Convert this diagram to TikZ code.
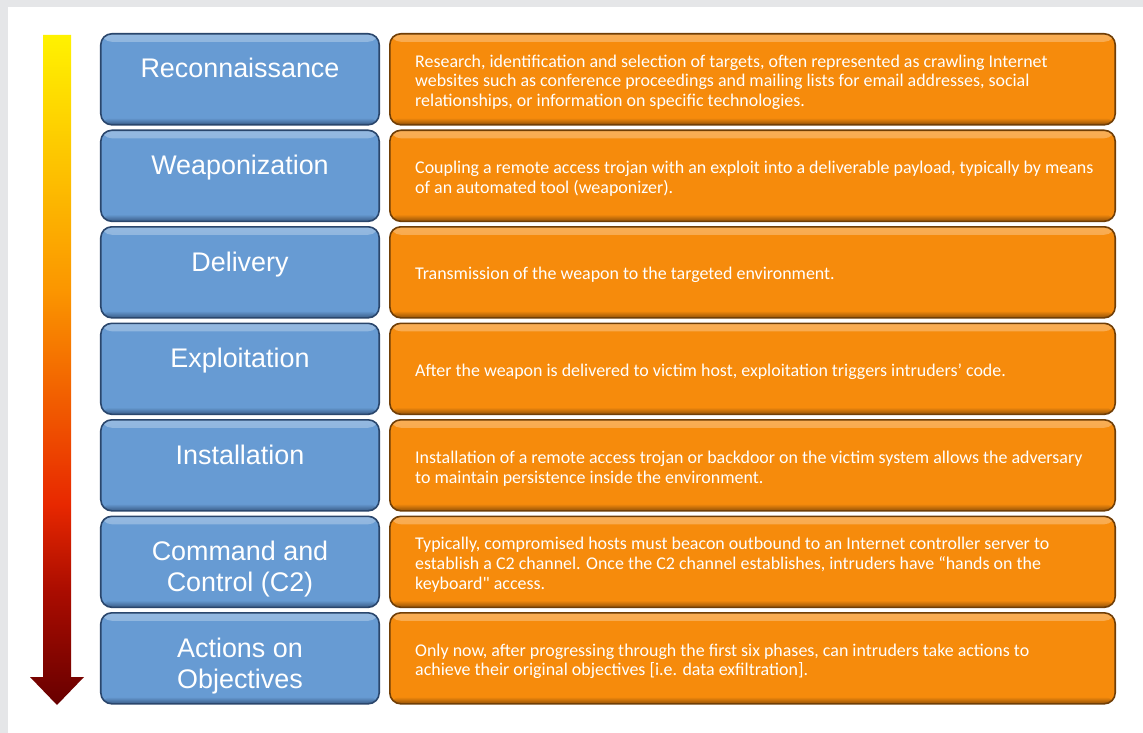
\documentclass[tikz,border=0pt]{standalone}
\usepackage{fontspec}
\setmainfont{Liberation Sans}
\newfontfamily\descfont{Carlito}
\usetikzlibrary{positioning}
\definecolor{PanelGray}{RGB}{229,230,232}
\definecolor{PhaseBlue}{RGB}{103,155,211}
\definecolor{PhaseEdge}{RGB}{42,70,108}
\definecolor{StepOrange}{RGB}{246,139,12}
\definecolor{StepEdge}{RGB}{112,62,6}
\definecolor{ArrowTop}{RGB}{255,242,0}
\definecolor{ArrowAmber}{RGB}{251,150,0}
\definecolor{ArrowRed}{RGB}{232,40,0}
\definecolor{ArrowDeep}{RGB}{170,12,0}
\definecolor{ArrowBottom}{RGB}{104,0,0}
\pgfdeclareverticalshading{killchain}{100bp}{color(0bp)=(ArrowBottom); color(25bp)=(ArrowBottom); color(33.5bp)=(ArrowDeep); color(40bp)=(ArrowRed); color(56bp)=(ArrowAmber); color(75bp)=(ArrowTop); color(100bp)=(ArrowTop)}
\tikzset{
  bevel/.style 2 args={draw=#2,fill=#1,line width=1.6bp,rounded corners=11bp,
    inner sep=0pt,minimum height=91bp,
    path picture={
      \shade[top color=#1!70!white,bottom color=#1]
        (path picture bounding box.north west) rectangle ([yshift=-8bp]path picture bounding box.north east);
      \shade[top color=#1,bottom color=#2!75!#1]
        ([yshift=7bp]path picture bounding box.south west) rectangle (path picture bounding box.south east);
    }},
  phase/.style={bevel={PhaseBlue}{PhaseEdge},minimum width=278.4bp},
  descbox/.style={bevel={StepOrange}{StepEdge},minimum width=725.4bp},
  phasetext/.style={anchor=base,yshift=-45bp,text=white,align=center,inner sep=0pt,
    font=\fontsize{27}{31}\selectfont},
  twolines/.style={phasetext,yshift=-31bp},
  desctext/.style={anchor=west,xshift=26bp,yshift=-3bp,text=white,align=left,inner sep=0pt,
    font=\descfont\fontsize{18}{20}\selectfont},
  chainarrow/.style={shading=killchain}
}
\begin{document}
\begin{tikzpicture}[x=1bp,y=-1bp]
  \useasboundingbox (0,0) rectangle (1143,733);
  \fill[PanelGray] (0,0) rectangle (1143,733);
  \fill[white] (8,7) rectangle (1143,733);
  \shade[chainarrow] (43,35) -- (71,35) -- (71,677) -- (84,677) -- (57,705) -- (30,677) -- (43,677) -- cycle;

  \node[phase,label={[phasetext]north:Reconnaissance}] (recon) at (240,79.3) {};
  \node[phase,below=3.9bp of recon,label={[phasetext]north:Weaponization}] (weapon) {};
  \node[phase,below=3.9bp of weapon,label={[phasetext]north:Delivery}] (deliver) {};
  \node[phase,below=3.9bp of deliver,label={[phasetext]north:Exploitation}] (exploit) {};
  \node[phase,below=3.9bp of exploit,label={[phasetext]north:Installation}] (install) {};
  \node[phase,below=3.9bp of install,label={[twolines]north:{Command and\\Control (C2)}}] (ctrl) {};
  \node[phase,below=3.9bp of ctrl,label={[twolines]north:{Actions on\\Objectives}}] (actions) {};

  \node[descbox,right=9bp of recon,label={[desctext]west:{Research, identification and selection of targets, often represented as crawling Internet\\websites such as conference proceedings and mailing lists for email addresses, social\\relationships, or information on specific technologies.}}] (recondesc) {};
  \node[descbox,right=9bp of weapon,label={[desctext]west:{Coupling a remote access trojan with an exploit into a deliverable payload, typically by means\\of an automated tool (weaponizer).}}] (weapondesc) {};
  \node[descbox,right=9bp of deliver,label={[desctext]west:{Transmission of the weapon to the targeted environment.}}] (deliverdesc) {};
  \node[descbox,right=9bp of exploit,label={[desctext]west:{After the weapon is delivered to victim host, exploitation triggers intruders’ code.}}] (exploitdesc) {};
  \node[descbox,right=9bp of install,label={[desctext]west:{Installation of a remote access trojan or backdoor on the victim system allows the adversary\\to maintain persistence inside the environment.}}] (installdesc) {};
  \node[descbox,right=9bp of ctrl,label={[desctext]west:{Typically, compromised hosts must beacon outbound to an Internet controller server to\\establish a C2 channel. Once the C2 channel establishes, intruders have “hands on the\\keyboard" access.}}] (ctrldesc) {};
  \node[descbox,right=9bp of actions,label={[desctext]west:{Only now, after progressing through the first six phases, can intruders take actions to\\achieve their original objectives [i.e. data exfiltration].}}] (actionsdesc) {};
\end{tikzpicture}
\end{document}
